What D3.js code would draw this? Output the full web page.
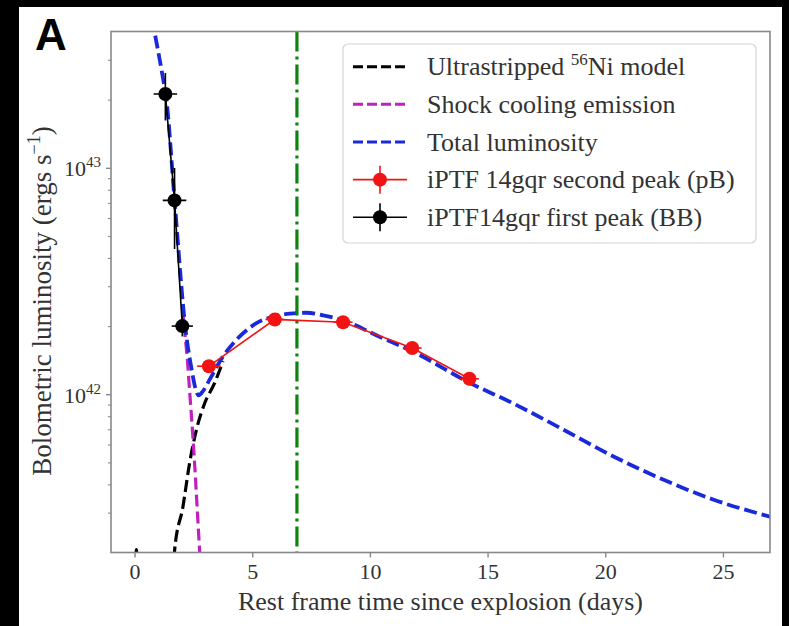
<!DOCTYPE html>
<html lang="en">
<head>
<meta charset="utf-8">
<title>iPTF14gqr bolometric light curve</title>
<script src="https://d3js.org/d3.v7.min.js"></script>
<style>
  body { margin: 0; background: #000; }
  svg { display: block; }
</style>
</head>
<body>
<script>
// values (time in days, luminosity in erg/s)
var niTime = [0.0, 0.08, 0.16, 1.6, 1.70, 2.06, 2.34, 2.63, 2.98, 3.40, 3.76];
var niLum = [1.0e41, 2.06e41, 1.0e41, 1.0e41, 2.03e41, 3.2e41, 4.97e41, 6.97e41, 9.12e41, 1.12e42, 1.40e42];

var shockTime = [2.03, 2.13, 2.25, 2.35, 2.45, 2.55, 2.65, 2.77, 2.85];
var shockLum = [2.4e42, 1.9e42, 1.4e42, 1.0e42, 7.2e41, 5.0e41, 3.3e41, 2.0e41, 1.5e41];

var totalTime = [0.6, 0.85, 1.19, 1.36, 1.70, 2.17, 2.43, 2.60, 2.72, 2.90, 3.19, 3.76, 4.47, 5.18, 5.89, 6.60, 7.31, 8.01, 8.86, 10.43, 11.84, 14.26, 16.10, 18.23, 20.35, 22.48, 24.61, 27.0];
var totalLum = [5.5e43, 3.98e43, 2.55e43, 1.98e43, 7.2e42, 1.92e42, 1.28e42, 1.05e42, 0.99e42, 1.03e42, 1.16e42, 1.47e42, 1.80e42, 2.06e42, 2.20e42, 2.27e42, 2.29e42, 2.23e42, 2.12e42, 1.79e42, 1.54e42, 1.12e42, 9.1e41, 6.97e41, 5.31e41, 4.19e41, 3.42e41, 2.88e41];

var pbTime = [3.16, 5.96, 8.86, 11.80, 14.23];
var pbLum = [1.33e42, 2.14e42, 2.08e42, 1.60e42, 1.17e42];
var pbTimeErr = [0.5, 0.4, 0.4, 0.4, 0.4];
var pbLumErr = [0.04e42, 0.05e42, 0.05e42, 0.04e42, 0.04e42];

var bbTime = [1.31, 1.70, 2.03];
var bbLum = [2.12e43, 7.18e42, 2.0e42];
var bbTimeErr = [0.5, 0.5, 0.45];
var bbLumErr = [0.5e43, 2.8e42, 0.2e42];

var peakTime = 6.9;

var xTicks = [0, 5, 10, 15, 20, 25];
var yMajorTicks = [1e42, 1e43];
var yMinorTicks = [3e41, 4e41, 5e41, 6e41, 7e41, 8e41, 9e41, 2e42, 3e42, 4e42, 5e42, 6e42, 7e42, 8e42, 9e42, 2e43, 3e43];

var legendLabels = ["Ultrastripped ", "Shock cooling emission", "Total luminosity", "iPTF 14gqr second peak (pB)", "iPTF14gqr first peak (BB)"];

var W = 789, H = 626;
var pL = 111, pR = 770, pT = 31.5, pB = 552.5;
var serif = "'Liberation Serif', 'Times New Roman', serif";

var svg = d3.select("body").append("svg")
  .attr("width", W)
  .attr("height", H);

// white figure area inside the black frame
svg.append("rect").attr("x", 19).attr("y", 7).attr("width", 763).attr("height", H - 7).attr("fill", "#fff");

var x = d3.scaleLinear().domain([-1, 27]).range([pL, pR]);
var y = d3.scaleLog().domain([2e41, 4e43]).range([pB, pT]);

svg.append("clipPath").attr("id", "plotclip")
  .append("rect").attr("x", pL).attr("y", pT).attr("width", pR - pL).attr("height", pB - pT);

var plot = svg.append("g").attr("clip-path", "url(#plotclip)");

var line = d3.line()
  .x(function (d) { return x(d[0]); })
  .y(function (d) { return y(d[1]); })
  .curve(d3.curveMonotoneX);

function pairs(t, l) { return t.map(function (v, i) { return [v, l[i]]; }); }

plot.append("path").datum(pairs(niTime, niLum))
  .attr("d", line).attr("fill", "none").attr("stroke", "#000")
  .attr("stroke-width", 3.2).attr("stroke-dasharray", "12,5");

plot.append("path").datum(pairs(shockTime, shockLum))
  .attr("d", line).attr("fill", "none").attr("stroke", "#bf20bf")
  .attr("stroke-width", 3.2).attr("stroke-dasharray", "12,5");

plot.append("path").datum(pairs(totalTime, totalLum))
  .attr("d", line).attr("fill", "none").attr("stroke", "#1a2ada")
  .attr("stroke-width", 3.8).attr("stroke-dasharray", "13,5");

plot.append("line")
  .attr("x1", x(peakTime)).attr("x2", x(peakTime))
  .attr("y1", pT).attr("y2", pB)
  .attr("stroke", "#0a840a").attr("stroke-width", 3.2)
  .attr("stroke-dasharray", "20,5,3,5");

function points(t, l, te, le, color) {
  var data = t.map(function (v, i) { return { t: v, l: l[i], te: te[i], le: le[i] }; });
  var straight = d3.line().x(function (d) { return x(d.t); }).y(function (d) { return y(d.l); });
  plot.append("path").datum(data).attr("d", straight)
    .attr("fill", "none").attr("stroke", color).attr("stroke-width", 1.6);
  var g = plot.append("g").selectAll("g").data(data).enter().append("g");
  g.append("line")
    .attr("x1", function (d) { return x(d.t - d.te); })
    .attr("x2", function (d) { return x(d.t + d.te); })
    .attr("y1", function (d) { return y(d.l); })
    .attr("y2", function (d) { return y(d.l); })
    .attr("stroke", color).attr("stroke-width", 1.6);
  g.append("line")
    .attr("x1", function (d) { return x(d.t); })
    .attr("x2", function (d) { return x(d.t); })
    .attr("y1", function (d) { return y(d.l - d.le); })
    .attr("y2", function (d) { return y(d.l + d.le); })
    .attr("stroke", color).attr("stroke-width", 1.6);
  g.append("circle")
    .attr("cx", function (d) { return x(d.t); })
    .attr("cy", function (d) { return y(d.l); })
    .attr("r", 7).attr("fill", color);
}
points(pbTime, pbLum, pbTimeErr, pbLumErr, "#f01414");
points(bbTime, bbLum, bbTimeErr, bbLumErr, "#000");

// frame
svg.append("rect").attr("x", pL).attr("y", pT)
  .attr("width", pR - pL).attr("height", pB - pT)
  .attr("fill", "none").attr("stroke", "#888").attr("stroke-width", 1.6);

// x axis
var xAxis = svg.append("g").attr("transform", "translate(0," + pB + ")")
  .call(d3.axisBottom(x).tickValues(xTicks).tickSize(5).tickPadding(6));
xAxis.select(".domain").remove();
xAxis.selectAll("line").attr("stroke", "#888").attr("stroke-width", 1.4);
xAxis.selectAll("text").attr("fill", "#333").style("font-family", serif).style("font-size", "22px");

// y axis, minor ticks
var yMinor = svg.append("g").attr("transform", "translate(" + pL + ",0)")
  .call(d3.axisLeft(y).tickValues(yMinorTicks).tickSize(3).tickFormat(""));
yMinor.select(".domain").remove();
yMinor.selectAll("line").attr("stroke", "#888").attr("stroke-width", 1.1);

// y axis, major ticks with 10^n labels
var yMajor = svg.append("g").attr("transform", "translate(" + pL + ",0)")
  .call(d3.axisLeft(y).tickValues(yMajorTicks).tickSize(5).tickFormat(""));
yMajor.select(".domain").remove();
yMajor.selectAll("line").attr("stroke", "#888").attr("stroke-width", 1.4);
yMajor.selectAll(".tick").each(function (d) {
  var t = d3.select(this).append("text")
    .attr("x", -10).attr("y", 8).attr("text-anchor", "end")
    .attr("fill", "#333").style("font-family", serif).style("font-size", "22px");
  t.append("tspan").text("10");
  t.append("tspan").attr("dy", -9).style("font-size", "15px").text(Math.round(Math.log10(d)));
});

// axis labels
svg.append("text")
  .attr("x", (pL + pR) / 2).attr("y", 610)
  .attr("text-anchor", "middle").attr("fill", "#333")
  .style("font-family", serif).style("font-size", "26px")
  .text("Rest frame time since explosion (days)");

var yl = svg.append("text")
  .attr("transform", "translate(51,301) rotate(-90)")
  .attr("text-anchor", "middle").attr("fill", "#333")
  .style("font-family", serif).style("font-size", "27px");
yl.append("tspan").text("Bolometric luminosity (ergs s");
yl.append("tspan").attr("dy", -11).style("font-size", "18px").text("\u22121");
yl.append("tspan").attr("dy", 11).text(")");

// panel letter
svg.append("text").attr("x", 35).attr("y", 50)
  .attr("fill", "#000").style("font-family", "'Liberation Sans', Arial, sans-serif")
  .style("font-weight", "bold").style("font-size", "44px").text("A");

// legend
var lg = svg.append("g");
lg.append("rect").attr("x", 343).attr("y", 44).attr("width", 413).attr("height", 199)
  .attr("rx", 5).attr("fill", "#fff").attr("fill-opacity", 0.8)
  .attr("stroke", "#d4d4d4").attr("stroke-width", 1.2);

var legendColors = ["#000", "#bf20bf", "#1a2ada", "#f01414", "#000"];
legendLabels.forEach(function (lab, i) {
  var cy = 66.7 + i * 37.65;
  if (i < 3) {
    lg.append("line").attr("x1", 353).attr("x2", 407).attr("y1", cy).attr("y2", cy)
      .attr("stroke", legendColors[i]).attr("stroke-width", 3).attr("stroke-dasharray", "10,4");
  } else {
    lg.append("line").attr("x1", 353).attr("x2", 407).attr("y1", cy).attr("y2", cy)
      .attr("stroke", legendColors[i]).attr("stroke-width", 1.6);
    lg.append("line").attr("x1", 380).attr("x2", 380).attr("y1", cy - 14).attr("y2", cy + 14)
      .attr("stroke", legendColors[i]).attr("stroke-width", 1.6);
    lg.append("circle").attr("cx", 380).attr("cy", cy).attr("r", 7).attr("fill", legendColors[i]);
  }
  var t = lg.append("text").attr("x", 427).attr("y", cy + 8.5).attr("fill", "#333")
    .style("font-family", serif).style("font-size", "26px");
  t.append("tspan").text(lab);
  if (i === 0) {
    t.append("tspan").attr("dy", -10).style("font-size", "17px").text("56");
    t.append("tspan").attr("dy", 10).text("Ni model");
  }
});
</script>
</body>
</html>
